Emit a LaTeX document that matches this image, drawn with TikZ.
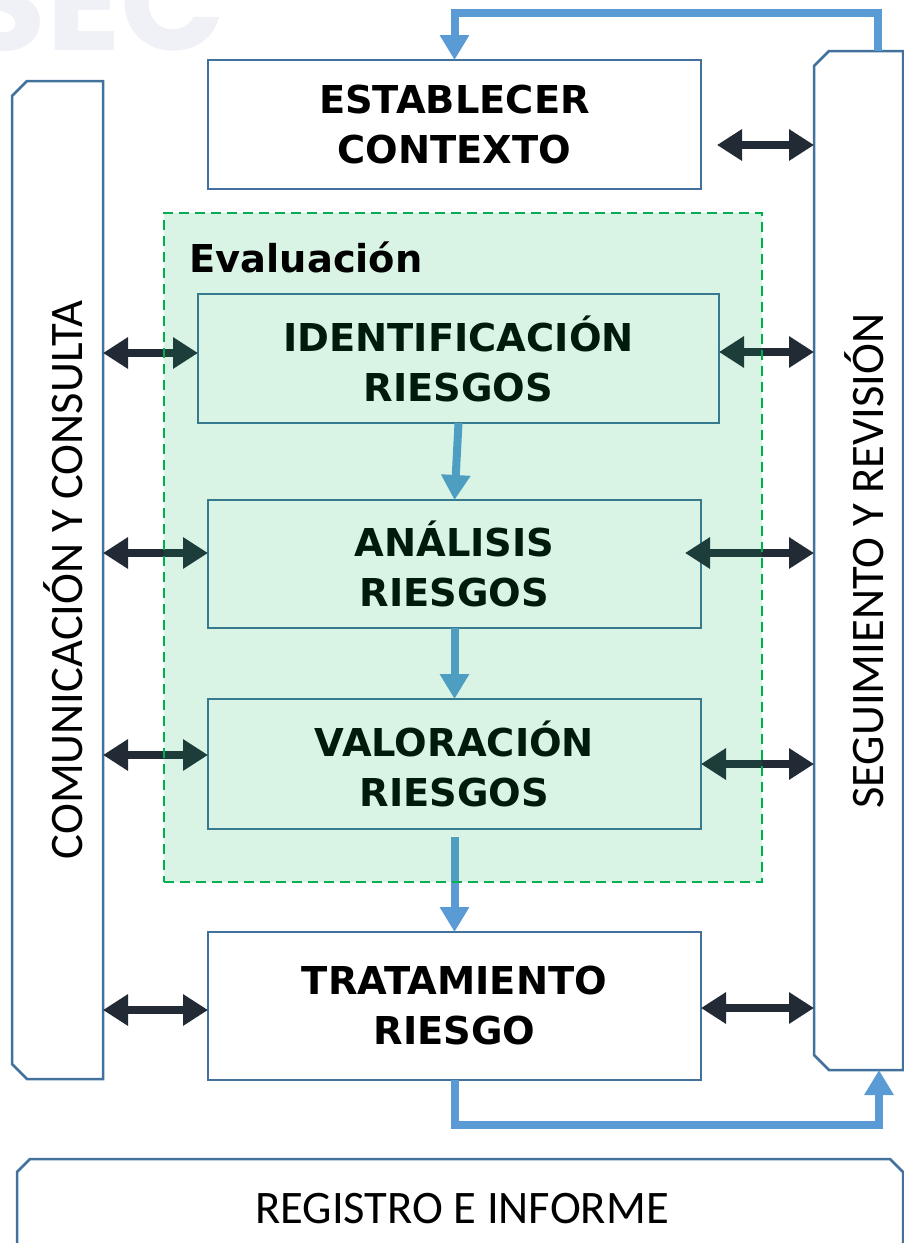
\documentclass[tikz,border=0pt]{standalone}
\usepackage{fontspec}
\setmainfont{DejaVu Sans}
\newfontfamily\lateralfont{Carlito}
\newfontfamily\marcafont{Poppins}
\usetikzlibrary{arrows.meta,calc}
\definecolor{borde}{HTML}{41719C}
\definecolor{azulflecha}{HTML}{5B9BD5}
\definecolor{oscuro}{HTML}{222A35}
\definecolor{verde}{HTML}{00B050}
\definecolor{marca}{HTML}{EFF1F6}
\tikzset{
	caja/.style={draw=borde,line width=1.25pt,minimum width=246.5pt,inner sep=0pt,outer sep=0pt,align=center,font=\fontsize{19.2}{25}\selectfont\bfseries},
	lateral/.style={inner sep=0pt,outer sep=0pt},
	marco/.style={draw=borde,line width=1.25pt},
	textolateral/.style={inner sep=0pt,font=\lateralfont\fontsize{23.3}{28}\selectfont},
	dobleflecha/.style={arrows={Triangle[length=12.5pt,width=15pt]-Triangle[length=12.5pt,width=15pt]},draw=oscuro,line width=4.2pt},
	flechaazul/.style={arrows={-Triangle[length=12.5pt,width=14pt]},draw=azulflecha,line width=4pt},
	evaluacion/.style={draw=verde,line width=1.4pt,dash pattern=on 5pt off 3pt,fill=verde,fill opacity=.15,minimum width=299pt,minimum height=334.5pt,inner sep=0pt}
}
\begin{document}
\begin{tikzpicture}[x=0.5pt,y=-0.5pt]
	\clip (0,0) rectangle (904,1243);
	\node[anchor=base west,inner sep=0pt,text=marca,font=\marcafont\bfseries\fontsize{69}{69}\selectfont] (sec) at (-39,50) {SEC};
	% cajas
	\node[caja,minimum height=64.5pt] (estab) at (454.5,124.5) {ESTABLECER\\CONTEXTO};
	\node[caja,minimum width=260.5pt,minimum height=64.5pt] (ident) at (458.5,358.5) {IDENTIFICACIÓN\\RIESGOS};
	\node[caja,minimum height=64pt] (anal) at (454.5,564) {ANÁLISIS\\RIESGOS};
	\node[caja,minimum height=65pt] (valor) at (454.5,764) {VALORACIÓN\\RIESGOS};
	\node[caja,minimum height=74pt] (trata) at (454.5,1006) {TRATAMIENTO\\RIESGO};
	% laterales
	\node[lateral,minimum width=45.5pt,minimum height=499pt] (comm) at (57.5,580) {};
	\node[lateral,minimum width=44.5pt,minimum height=509.5pt] (segui) at (858.5,560.5) {};
	\node[lateral,minimum width=443pt,minimum height=70.5pt] (regi) at (460,1229.5) {};
	\draw[marco] ($(comm.north west)+(15,0)$) -- (comm.north east) -- (comm.south east) -- ($(comm.south west)+(15,0)$) -- ($(comm.south west)+(0,-15)$) -- ($(comm.north west)+(0,15)$) -- cycle;
	\draw[marco] ($(segui.north west)+(15,0)$) -- (segui.north east) -- (segui.south east) -- ($(segui.south west)+(15,0)$) -- ($(segui.south west)+(0,-15)$) -- ($(segui.north west)+(0,15)$) -- cycle;
	\draw[marco] (regi.south west) -- ($(regi.north west)+(0,13)$) -- ($(regi.north west)+(13,0)$) -- ($(regi.north east)+(-13,0)$) -- ($(regi.north east)+(0,13)$) -- (regi.south east);
	\node[textolateral,rotate=90] (commtxt) at (63,580) {COMUNICACIÓN Y CONSULTA};
	\node[textolateral,rotate=90] (seguitxt) at (864,561) {SEGUIMIENTO Y REVISIÓN};
	\node[textolateral] (regitxt) at (462,1209) {REGISTRO E INFORME};
	% flechas
	\foreach \caja/\dy in {ident/-5.5,anal/-11,valor/-9,trata/4}
	\draw[dobleflecha] ($(comm.east |- \caja.west)+(0,\dy)$) -- ($(\caja.west)+(0,\dy)$);
	\foreach \caja/\dx/\dy in {estab/16/20.5,ident/0/-6.5,anal/-16/-11,valor/0/0,trata/0/2}
	\draw[dobleflecha] ($(\caja.east)+(\dx,\dy)$) -- ($(segui.west |- \caja.east)+(0,\dy)$);
	\draw[flechaazul] ($(segui.north west)+(64,0)$) -- ++(0,-38) -| (estab.north);
	\draw[flechaazul] (trata.south) -- ++(0,45) -| ($(segui.south west)+(65,0)$);
	\draw[flechaazul] (ident.south) -- (anal.north);
	\draw[flechaazul] (anal.south) -- (valor.north);
	\draw[flechaazul] ($(valor.south)+(0,8)$) -- (trata.north);
	% evaluacion
	\node[evaluacion] (eval) at (463,547.5) {};
	\node[anchor=base west,inner sep=0pt,font=\fontsize{19.2}{25}\selectfont\bfseries] (evaltxt) at (189,272) {Evaluación};
\end{tikzpicture}
\end{document}
